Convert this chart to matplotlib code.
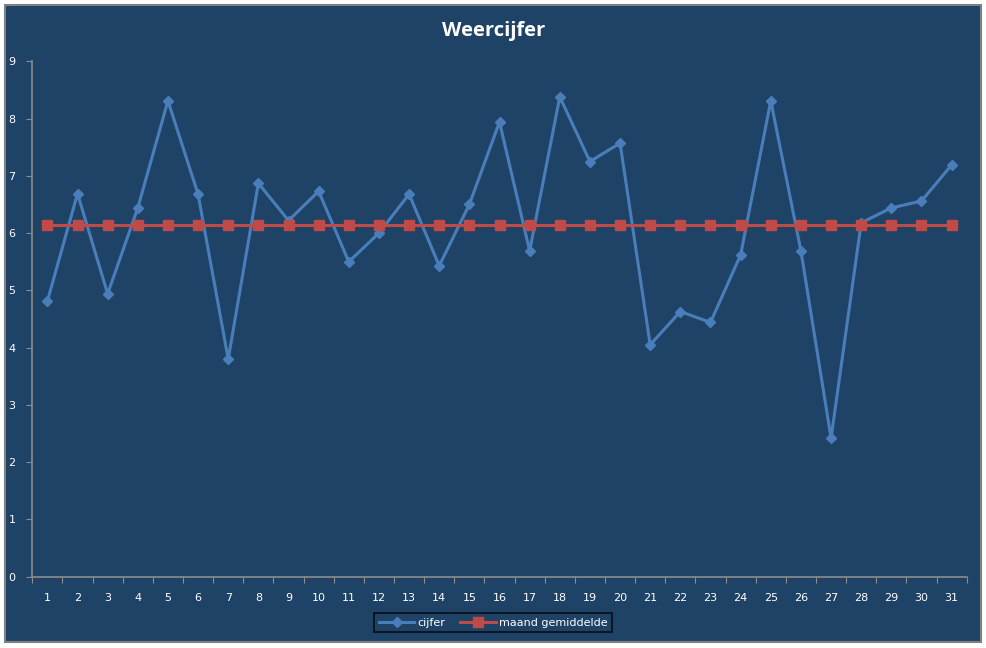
import matplotlib
matplotlib.use("Agg")
import matplotlib.pyplot as plt
from matplotlib.patches import Rectangle

days = list(range(1, 32))
cijfer = [4.81, 6.69, 4.94, 6.44, 8.31, 6.68, 3.80, 6.87, 6.22, 6.73,
          5.50, 6.00, 6.68, 5.43, 6.50, 7.94, 5.69, 8.38, 7.25, 7.57,
          4.05, 4.63, 4.44, 5.62, 8.31, 5.69, 2.42, 6.18, 6.44, 6.56, 7.19]
maand_gemiddelde = [6.15] * 31
title = "Weercijfer"
series_names = ["cijfer", "maand gemiddelde"]

BG = "#1F4366"
BLUE = "#4A7EBB"
RED = "#BE4B48"
AXIS = "#8C8C8C"

W, H = 987, 648
fig = plt.figure(figsize=(W / 100, H / 100), dpi=100, facecolor="white")

# chart area frame
fig.patches.append(Rectangle((5 / W, 1 - 642 / H), (981.5 - 5) / W, (642 - 5) / H,
                             transform=fig.transFigure, facecolor=BG,
                             edgecolor="#808080", linewidth=1.5, zorder=-10))

ax = fig.add_axes([32.3 / W, 1 - 576.7 / H, (966.7 - 32.3) / W, (576.7 - 61.3) / H])
ax.set_zorder(5)
ax.patch.set_alpha(0)

ax.plot(days, cijfer, color=BLUE, lw=2.2, marker="D", ms=5.5, mfc=BLUE, mec=BLUE,
        label=series_names[0], zorder=3)
ax.plot(days, maand_gemiddelde, color=RED, lw=2.2, marker="s", ms=6.5, mfc=RED, mec=RED,
        label=series_names[1], zorder=4)

ax.set_xlim(0.5, 31.5)
ax.set_ylim(0, 9)
ax.set_yticks(range(0, 10))
ax.set_xticks([d - 0.5 for d in days] + [31.5])
ax.set_xticklabels([])
ax.set_xticks(days, minor=True)
ax.set_xticklabels([str(d) for d in days], minor=True)

for s in ["top", "right"]:
    ax.spines[s].set_visible(False)
for s in ["left", "bottom"]:
    ax.spines[s].set_color(AXIS)
    ax.spines[s].set_linewidth(1.2)

ax.tick_params(axis="y", which="major", direction="out", length=4, color=AXIS,
               labelcolor="white", labelsize=8, pad=8)
ax.tick_params(axis="x", which="major", direction="out", length=4, color=AXIS)
ax.tick_params(axis="x", which="minor", length=0, labelcolor="white", labelsize=8, pad=12)

fig.text(493.5 / W, 1 - 31 / H, title, ha="center", va="center", color="white",
         fontsize=14.5, fontweight="bold", family="Open Sans", zorder=6)

leg = fig.legend(loc="center", bbox_to_anchor=(493.2 / W, 1 - 622.5 / H), ncol=2,
                 frameon=True, fancybox=False, fontsize=8, labelcolor="white",
                 handlelength=3.2, columnspacing=1.3, handletextpad=0.3,
                 borderpad=0.4)
leg.set_zorder(6)
leg.get_frame().set_facecolor(BG)
leg.get_frame().set_edgecolor("black")
leg.get_frame().set_linewidth(1.2)

fig.savefig("out.png", dpi=100, facecolor="white")
